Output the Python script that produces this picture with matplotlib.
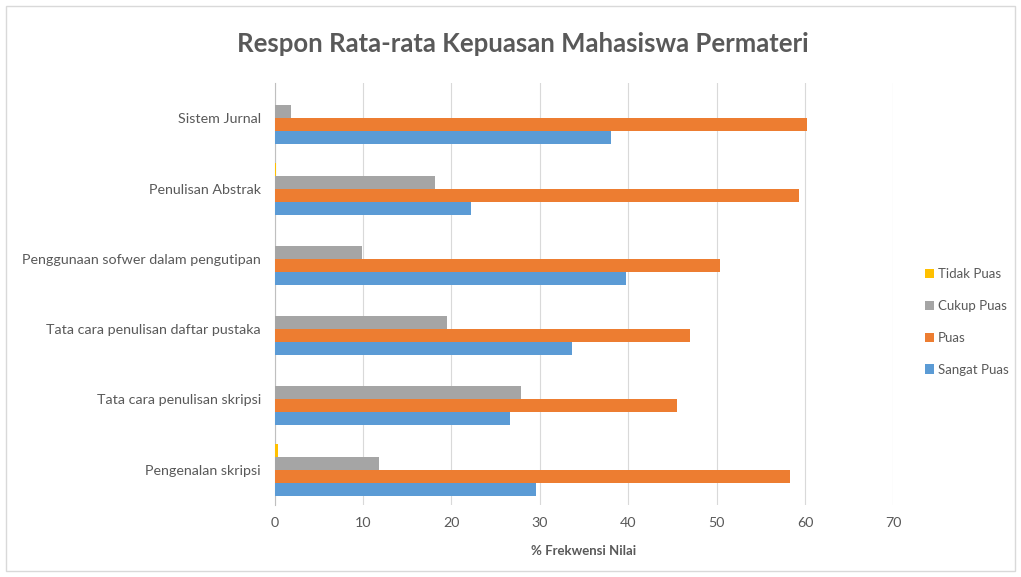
import numpy as np
import matplotlib
matplotlib.use("Agg")
import matplotlib.pyplot as plt
from matplotlib.patches import Rectangle

plt.rcParams["font.family"] = ["Lato", "DejaVu Sans"]

# Data (bottom to top, as Excel draws it)
categories = ["Pengenalan skripsi", "Tata cara penulisan skripsi",
              "Tata cara penulisan daftar pustaka",
              "Penggunaan sofwer dalam pengutipan",
              "Penulisan Abstrak", "Sistem Jurnal"]
sangat_puas = [29.6, 26.6, 33.6, 39.8, 22.2, 38.0]
puas = [58.3, 45.5, 47.0, 50.4, 59.3, 60.2]
cukup_puas = [11.8, 27.9, 19.5, 9.9, 18.1, 1.9]
tidak_puas = [0.4, 0.0, 0.0, 0.0, 0.2, 0.0]
x_ticks = [0, 10, 20, 30, 40, 50, 60, 70]

series = [("Sangat Puas", sangat_puas, "#5B9BD5"),
          ("Puas", puas, "#ED7D31"),
          ("Cukup Puas", cukup_puas, "#A5A5A5"),
          ("Tidak Puas", tidak_puas, "#FFC000")]

text_col = "#595959"
fig = plt.figure(figsize=(10.21, 5.77), dpi=100)
ax = fig.add_axes([0.269, 0.125, 0.606, 0.731])

# chart border
fig.patches.append(Rectangle((0.006, 0.01), 0.988, 0.98, transform=fig.transFigure,
                             fill=False, edgecolor="#D9D9D9", linewidth=1))

y = np.arange(len(categories))
h = 0.185
for i, (name, vals, col) in enumerate(series):
    ax.barh(y + (i - 1.5) * h, vals, height=h, color=col, label=name, zorder=3)

ax.set_ylim(-0.5, len(categories) - 0.5)
ax.set_xlim(0, 70)
ax.set_xticks(x_ticks)
ax.set_yticks(y)
ax.set_yticklabels(categories)
ax.grid(axis="x", color="#D9D9D9", linewidth=0.8, zorder=0)
for s in ["top", "right", "bottom"]:
    ax.spines[s].set_visible(False)
ax.spines["left"].set_color("#BFBFBF")
ax.tick_params(axis="both", length=0, colors=text_col, labelsize=10.3)
ax.tick_params(axis="y", pad=10)
ax.tick_params(axis="x", pad=9)

ax.set_xlabel("% Frekwensi Nilai", fontsize=9.5, fontweight="bold", color=text_col, labelpad=11)
fig.suptitle("Respon Rata-rata Kepuasan Mahasiswa Permateri", x=0.512, y=0.945,
             fontsize=18.5, fontweight="bold", color=text_col)

handles, labels = ax.get_legend_handles_labels()
leg = fig.legend(handles[::-1], labels[::-1], loc="center left", bbox_to_anchor=(0.894, 0.442),
                 frameon=False, fontsize=9.5, labelcolor=text_col, handlelength=0.7,
                 handleheight=0.7, handletextpad=0.3, labelspacing=1.5)

fig.savefig("out.png", dpi=100)
